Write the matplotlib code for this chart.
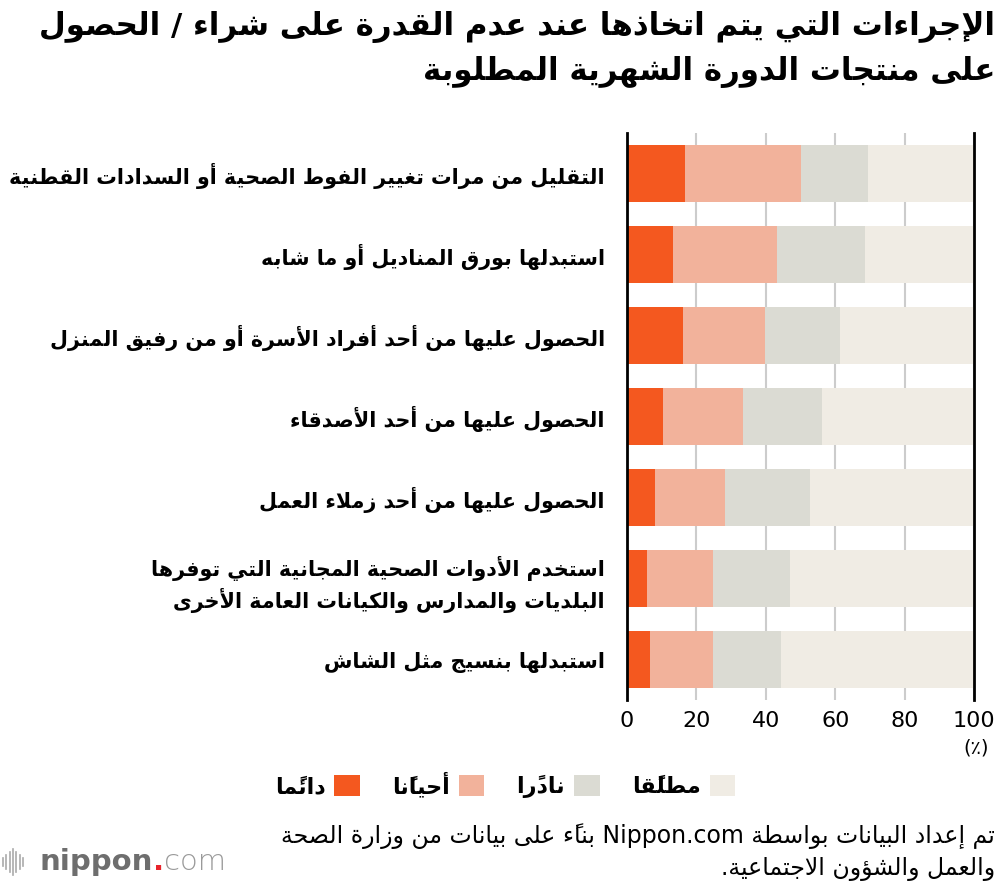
import re
import matplotlib
matplotlib.use("Agg")
import matplotlib.pyplot as plt

plt.rcParams['font.family'] = ['DejaVu Sans']

# ---- minimal Arabic shaping + RTL ordering (matplotlib has no bidi) ----
_TWO = {'\u0622': 0xFE81, '\u0623': 0xFE83, '\u0624': 0xFE85, '\u0625': 0xFE87,
        '\u0627': 0xFE8D, '\u0629': 0xFE93, '\u062F': 0xFEA9, '\u0630': 0xFEAB,
        '\u0631': 0xFEAD, '\u0632': 0xFEAF, '\u0648': 0xFEED, '\u0649': 0xFEEF}
_FOUR = {'\u0626': 0xFE89, '\u0628': 0xFE8F, '\u062A': 0xFE95, '\u062B': 0xFE99,
         '\u062C': 0xFE9D, '\u062D': 0xFEA1, '\u062E': 0xFEA5, '\u0633': 0xFEB1,
         '\u0634': 0xFEB5, '\u0635': 0xFEB9, '\u0636': 0xFEBD, '\u0637': 0xFEC1,
         '\u0638': 0xFEC5, '\u0639': 0xFEC9, '\u063A': 0xFECD, '\u0641': 0xFED1,
         '\u0642': 0xFED5, '\u0643': 0xFED9, '\u0644': 0xFEDD, '\u0645': 0xFEE1,
         '\u0646': 0xFEE5, '\u0647': 0xFEE9, '\u064A': 0xFEF1}
_LAMALEF = {'\u0622': 0xFEF5, '\u0623': 0xFEF7, '\u0625': 0xFEF9, '\u0627': 0xFEFB}
_MARKS = set(chr(c) for c in range(0x064B, 0x0653)) | {'\u0670'}


def ar(text):
    lines = text.split('\n')
    return '\n'.join(_ar_line(l) for l in lines)


def _ar_line(s):
    cl = []
    for c in s:
        if c in _MARKS and cl:
            cl[-1][1] += c
        else:
            cl.append([c, ''])
    # lam-alef ligatures
    merged = []
    i = 0
    while i < len(cl):
        if cl[i][0] == '\u0644' and i + 1 < len(cl) and cl[i + 1][0] in _LAMALEF:
            merged.append(['LA' + cl[i + 1][0], cl[i][1] + cl[i + 1][1]])
            i += 2
        else:
            merged.append(cl[i])
            i += 1
    cl = merged

    def jt(b):
        if b in _FOUR:
            return 'D'
        if b in _TWO or b.startswith('LA'):
            return 'R'
        return 'U'

    types = [jt(b) for b, _ in cl]
    glyphs = []
    for i, (b, m) in enumerate(cl):
        t = types[i]
        prev = i > 0 and types[i - 1] == 'D' and t in 'DR'
        nxt = i < len(cl) - 1 and t == 'D' and types[i + 1] in 'DR'
        if t == 'D':
            g = chr(_FOUR[b] + (3 if prev and nxt else 1 if prev else 2 if nxt else 0))
        elif t == 'R':
            base = _LAMALEF[b[2]] if b.startswith('LA') else _TWO[b]
            g = chr(base + (1 if prev else 0))
        elif b == '\u0621':
            g = '\uFE80'
        else:
            g = b
        glyphs.append([g + m, b])
    # direction runs
    dirs = []
    for g, b in glyphs:
        dirs.append('L' if re.match(r'[A-Za-z0-9]', b) else 'R')
    for i in range(1, len(dirs) - 1):
        if glyphs[i][1] == '.' and dirs[i - 1] == 'L' and dirs[i + 1] == 'L':
            dirs[i] = 'L'
    runs = []
    for (g, b), d in zip(glyphs, dirs):
        if runs and runs[-1][0] == d:
            runs[-1][1].append(g)
        else:
            runs.append([d, [g]])
    out = []
    for d, gs in reversed(runs):
        out.extend(gs if d == 'L' else reversed(gs))
    return ''.join(out)


# ---- data ----
title_lines = ["الإجراءات التي يتم اتخاذها عند عدم القدرة على شراء / الحصول",
               "على منتجات الدورة الشهرية المطلوبة"]
categories = [
    "التقليل من مرات تغيير الفوط الصحية أو السدادات القطنية",
    "استبدلها بورق المناديل أو ما شابه",
    "الحصول عليها من أحد أفراد الأسرة أو من رفيق المنزل",
    "الحصول عليها من أحد الأصدقاء",
    "الحصول عليها من أحد زملاء العمل",
    "استخدم الأدوات الصحية المجانية التي توفرها\nالبلديات والمدارس والكيانات العامة الأخرى",
    "استبدلها بنسيج مثل الشاش",
]
series_names = ["دائمًا", "أحيانًا", "نادرًا", "مطلقًا"]
always = [16.8, 13.4, 16.0, 10.3, 8.2, 5.7, 6.5]
sometimes = [33.2, 29.7, 23.8, 23.0, 20.1, 19.0, 18.2]
rarely = [19.4, 25.4, 21.7, 23.0, 24.3, 22.4, 19.6]
never = [30.6, 31.5, 38.5, 43.7, 47.4, 52.9, 55.7]
colors = ["#F4581F", "#F2B29B", "#DBDBD3", "#F0ECE4"]
xticks = [0, 20, 40, 60, 80, 100]
source_lines = ["تم إعداد البيانات بواسطة Nippon.com بناءً على بيانات من وزارة الصحة",
                "والعمل والشؤون الاجتماعية."]

fig = plt.figure(figsize=(10, 8.88), dpi=100)
ax = fig.add_axes([0.627, 0.2117, 0.347, 0.6385])

y = list(range(len(categories)))
left = [0] * len(categories)
handles = []
for vals, name, col in zip([always, sometimes, rarely, never], series_names, colors):
    h = ax.barh(y, vals, left=left, height=0.7, color=col, label=ar(name), zorder=3)
    handles.append(h)
    left = [a + b for a, b in zip(left, vals)]

ax.set_xlim(0, 100)
ax.set_ylim(len(categories) - 0.5, -0.5)
ax.set_xticks(xticks)
ax.set_xticklabels([str(t) for t in xticks], fontsize=16)
ax.set_yticks(y)
ax.set_yticklabels([ar(c) for c in categories], fontsize=14.9, fontweight='bold',
                   linespacing=1.35)
ax.tick_params(axis='y', length=0, pad=16)
ax.tick_params(axis='x', length=0, pad=8)
for lbl in ax.get_yticklabels():
    lbl.set_horizontalalignment('right')
ax.grid(axis='x', color='#CCCCCC', linewidth=1.5, zorder=0)
for s in ['top', 'bottom']:
    ax.spines[s].set_visible(False)
for s in ['left', 'right']:
    ax.spines[s].set_linewidth(2)
    ax.spines[s].set_color('black')
    ax.spines[s].set_zorder(4)

fig.text(0.976, 1 - 748 / 888, "(٪)", ha='center', va='center', fontsize=14)

# title
fig.text(0.995, 1 - 27 / 888, ar(title_lines[0]), ha='right', va='center',
         fontsize=22.2, fontweight='bold')
fig.text(0.995, 1 - 72 / 888, ar(title_lines[1]), ha='right', va='center',
         fontsize=22.2, fontweight='bold')

# legend (RTL style: text left of swatch)
fig.legend(handles=handles, loc='center', bbox_to_anchor=(0.505, 1 - 785 / 888),
           ncol=4, frameon=False, markerfirst=False,
           prop={'weight': 'bold', 'size': 16},
           handlelength=1.15, handleheight=1.1, handletextpad=0.4, columnspacing=1.45)

# source
fig.text(0.995, 1 - 836 / 888, ar(source_lines[0]), ha='right', va='center', fontsize=17)
fig.text(0.995, 1 - 869 / 888, ar(source_lines[1]), ha='right', va='center', fontsize=17)

# logo
for i, hgt in enumerate([8, 14, 20, 26, 20, 14, 8]):
    xx = (3 + i * 3.3) / 1000
    fig.add_artist(plt.Line2D([xx, xx], [1 - (862 - hgt / 2) / 888, 1 - (862 + hgt / 2) / 888],
                              color='#AAAAAA', linewidth=1.2))
t1 = fig.text(0.040, 1 - 862 / 888, "nippon", ha='left', va='center', fontsize=21,
              color='#6E6E6E', fontweight='bold')
fig.canvas.draw()
bb = t1.get_window_extent()
t2 = fig.text(bb.x1 / 1000, 1 - 862 / 888, ".", ha='left', va='center', fontsize=21,
              color='#E8242B', fontweight='bold')
bb2 = t2.get_window_extent()
fig.text(bb2.x1 / 1000, 1 - 862 / 888, "com", ha='left', va='center', fontsize=21,
         color='#9A9A9A', fontweight='light')

fig.savefig("out.png", dpi=100)
